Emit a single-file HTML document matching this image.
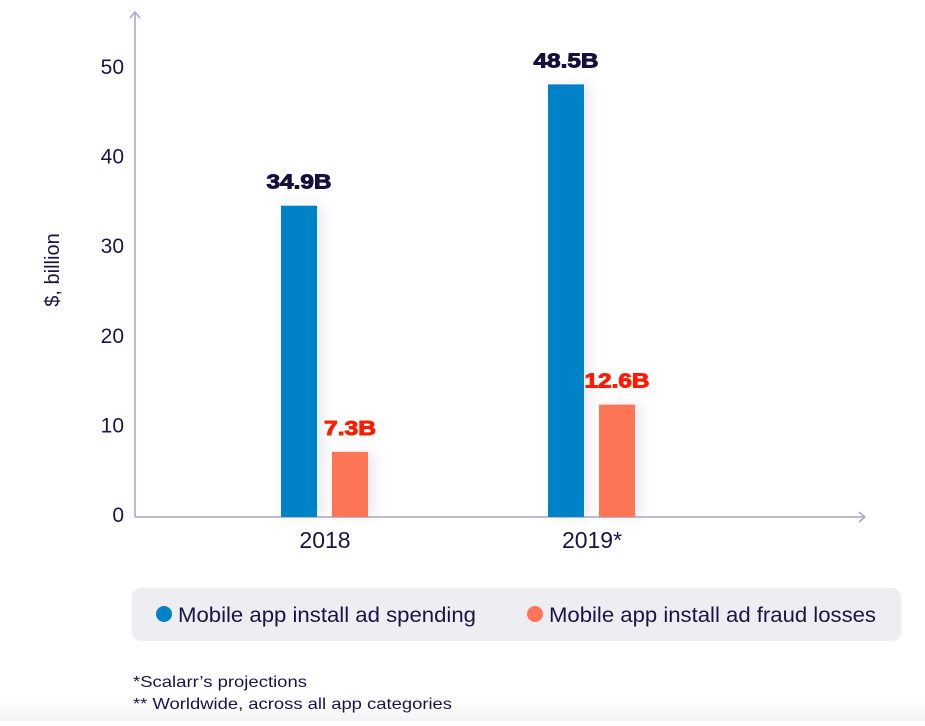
<!DOCTYPE html>
<html><head><meta charset="utf-8"><style>
body{margin:0;width:925px;height:721px;background:#fff;overflow:hidden;font-family:"Liberation Sans",Arial,sans-serif;}
</style></head><body>
<svg width="925" height="721" id="chart">
<defs>
<linearGradient id="fade" x1="0" y1="0" x2="0" y2="1"><stop offset="0" stop-color="#fff"/><stop offset="1" stop-color="#f3f3f5"/></linearGradient>
<filter id="sh" x="-50%" y="-10%" width="200%" height="120%"><feDropShadow dx="6" dy="0" stdDeviation="6" flood-color="#8888aa" flood-opacity="0.18"/></filter>
</defs>
<rect x="0" y="700" width="925" height="21" fill="url(#fade)"/>
<g id="axes" stroke="#a9a6bf" stroke-width="1.5" fill="none">
<line x1="135" y1="12" x2="135" y2="517"/>
<polyline points="130,18 135,12 140,18"/>
<line x1="135" y1="517" x2="865" y2="517"/>
<polyline points="859,512 865,517 859,522"/>
</g>
<text transform="translate(59,270) rotate(-90)" text-anchor="middle" font-size="20" fill="#1a1446">$, billion</text>
<g id="ticks"></g>
<g id="bars"></g>
<g>
<rect x="132" y="588" width="769" height="53" rx="9" fill="#ededf2"/>
<circle cx="164" cy="614" r="8" fill="#0382c8"/>
<text x="178" y="622" font-size="21" textLength="298" lengthAdjust="spacingAndGlyphs" fill="#1a1446">Mobile app install ad spending</text>
<circle cx="535" cy="614" r="8" fill="#fe7557"/>
<text x="549" y="622" font-size="21" textLength="327" lengthAdjust="spacingAndGlyphs" fill="#1a1446">Mobile app install ad fraud losses</text>
</g>
<text x="133" y="687" font-size="16" textLength="174" lengthAdjust="spacingAndGlyphs" fill="#1a1446">*Scalarr’s projections</text>
<text x="133" y="709" font-size="16" textLength="319" lengthAdjust="spacingAndGlyphs" fill="#1a1446">** Worldwide, across all app categories</text>
</svg>
<script>
const categories = ["2018", "2019*"];
const spending = [34.9, 48.5];
const fraud = [7.3, 12.6];
const spendingLabels = ["34.9B", "48.5B"];
const fraudLabels = ["7.3B", "12.6B"];
const yTicks = [0, 10, 20, 30, 40, 50];

const NS = "http://www.w3.org/2000/svg";
const y0 = 517, pxPerUnit = 8.92;
const y = v => y0 - v * pxPerUnit;
const groupX = i => 325 + i * 267;
function mk(tag, attrs, parent, txt) {
  const el = document.createElementNS(NS, tag);
  for (const k in attrs) el.setAttribute(k, attrs[k]);
  if (txt !== undefined) el.textContent = txt;
  parent.appendChild(el);
  return el;
}
const tg = document.getElementById("ticks");
yTicks.forEach(t => {
  const el = mk("text", {x: 124, y: 522 - t * 8.96, "text-anchor": "end", "font-size": "21", fill: "#1a1446"}, tg, String(t));
  
  
});
const bg = document.getElementById("bars");
categories.forEach((c, i) => {
  const cx = groupX(i);
  const b1 = mk("rect", {x: cx - 44, y: y(spending[i]), width: 36, height: y0 - y(spending[i]), fill: "#0382c8", filter: "url(#sh)"}, bg);
  
  
  const b2 = mk("rect", {x: cx + 7, y: y(fraud[i]), width: 36, height: y0 - y(fraud[i]), fill: "#fe7557", filter: "url(#sh)"}, bg);
  
  
  const l1 = mk("text", {x: cx - 26, y: y(spending[i]) - 17, "text-anchor": "middle", "font-size": "20", "font-weight": "bold", stroke: "#14103d", "stroke-width": "0.9", fill: "#14103d", textLength: spendingLabels[i].length * 13, lengthAdjust: "spacingAndGlyphs"}, bg, spendingLabels[i]);
  
  
  const l2 = mk("text", {x: cx + 25, y: y(fraud[i]) - 17, "text-anchor": "middle", "font-size": "20", "font-weight": "bold", stroke: "#ff1a00", "stroke-width": "0.9", fill: "#ff1a00", textLength: fraudLabels[i].length * 13, lengthAdjust: "spacingAndGlyphs"}, bg, fraudLabels[i]);
  
  
  const xl = mk("text", {x: cx, y: 548, "text-anchor": "middle", "font-size": "23", fill: "#1a1446"}, bg, c);
  
  
});
</script>
</body></html>
